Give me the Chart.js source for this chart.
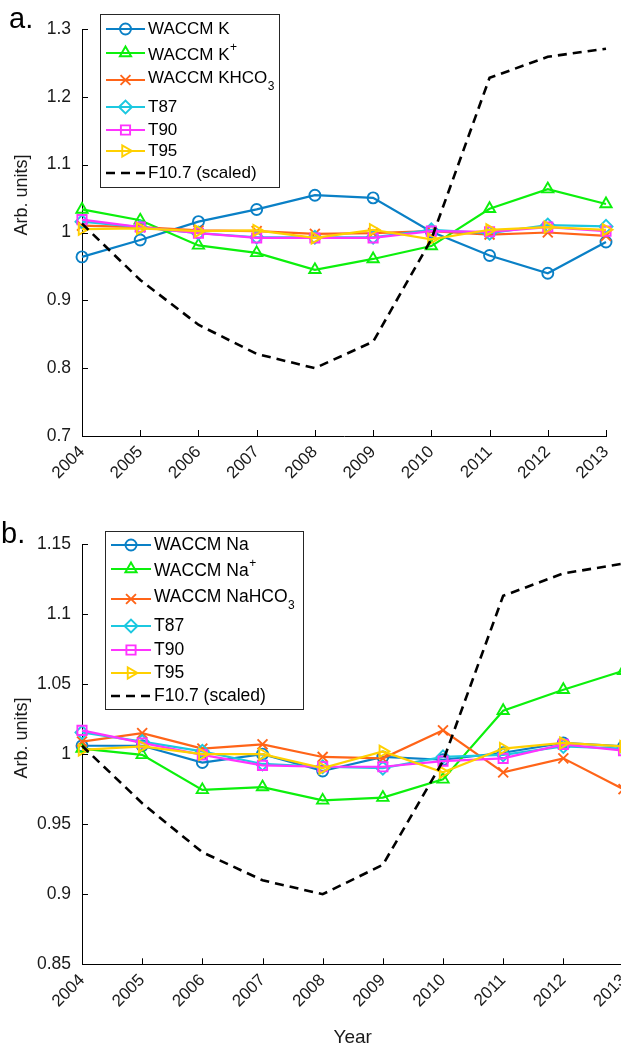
<!DOCTYPE html>
<html>
<head>
<meta charset="utf-8">
<script src="https://cdn.jsdelivr.net/npm/chart.js@4.4.1/dist/chart.umd.min.js"></script>
<style>
html, body { margin: 0; padding: 0; background: #fff; overflow: hidden; width: 621px; height: 1049px; }
#wa { position: absolute; left: 0; top: 0; }
#wb { position: absolute; left: 0; top: 480px; }
</style>
</head>
<body>
<div id="wa"><canvas id="chartA" width="621" height="480"></canvas></div>
<div id="wb"><canvas id="chartB" width="640" height="569"></canvas></div>
<script>
// x categories
var years = ['2004', '2005', '2006', '2007', '2008', '2009', '2010', '2011', '2012', '2013'];

// panel a (potassium)
var kWaccm = [0.964, 0.989, 1.016, 1.034, 1.055, 1.051, 1.001, 0.966, 0.940, 0.986];
var kIon   = [1.034, 1.018, 0.981, 0.970, 0.945, 0.961, 0.980, 1.035, 1.064, 1.042];
var kHco3  = [1.010, 1.008, 1.003, 1.002, 0.998, 0.999, 1.002, 0.997, 1.000, 0.995];
var kT87   = [1.016, 1.008, 0.999, 0.993, 0.993, 0.993, 1.004, 0.999, 1.011, 1.009];
var kT90   = [1.019, 1.008, 0.999, 0.992, 0.992, 0.992, 1.002, 1.001, 1.008, 1.002];
var kT95   = [1.005, 1.006, 1.002, 1.003, 0.992, 1.004, 0.990, 1.004, 1.008, 1.004];
var f107a  = [1.013, 0.930, 0.864, 0.821, 0.800, 0.839, 0.990, 1.228, 1.259, 1.271];
var labelsA = ['WACCM K', 'WACCM K^+', 'WACCM KHCO_3', 'T87', 'T90', 'T95', 'F10.7 (scaled)'];
var yTicksA = [0.7, 0.8, 0.9, 1.0, 1.1, 1.2, 1.3];
var yTickLabelsA = ['0.7', '0.8', '0.9', '1', '1.1', '1.2', '1.3'];

// panel b (sodium)
var naWaccm = [1.006, 1.006, 0.994, 1.000, 0.988, 0.998, 0.996, 1.001, 1.008, 1.0055];
var naIon   = [1.004, 0.9995, 0.9745, 0.9765, 0.967, 0.969, 0.982, 1.031, 1.046, 1.0595];
var naHco3  = [1.009, 1.015, 1.004, 1.007, 0.998, 0.997, 1.017, 0.987, 0.997, 0.975];
var naT87   = [1.0155, 1.009, 1.002, 0.993, 0.991, 0.990, 0.998, 0.9995, 1.0055, 1.004];
var naT90   = [1.017, 1.008, 0.9995, 0.992, 0.991, 0.991, 0.995, 0.997, 1.007, 1.0025];
var naT95   = [1.003, 1.0055, 1.000, 1.000, 0.990, 1.002, 0.987, 1.004, 1.008, 1.0055];
var f107b   = [1.006, 0.965, 0.930, 0.910, 0.900, 0.921, 0.995, 1.113, 1.129, 1.136];
var labelsB = ['WACCM Na', 'WACCM Na^+', 'WACCM NaHCO_3', 'T87', 'T90', 'T95', 'F10.7 (scaled)'];
var yTicksB = [0.85, 0.9, 0.95, 1.0, 1.05, 1.1, 1.15];
var yTickLabelsB = ['0.85', '0.9', '0.95', '1', '1.05', '1.1', '1.15'];

var FONT = "'Liberation Sans', Arial, sans-serif";
var colors = ['#0a80c6', '#0cf00c', '#ff6418', '#1cc8e0', '#ff33ff', '#ffd000', '#000000'];
var styles = ['circle', 'triangle', 'crossRot', 'rectRot', 'rect', 'triangle', false];
var rots = [0, 0, 0, 0, 0, 90, 0];
var sizes = [5.5, 6.5, 7, 6.5, 6.5, 6.5, 0];

function makeSets(labels, series) {
    return series.map(function (d, i) {
        var dashed = (i === 6);
        return {
            label: labels[i].replace('^', '').replace('_', ''),
            data: d,
            borderColor: colors[i],
            backgroundColor: colors[i],
            borderWidth: dashed ? 2.6 : 2.2,
            borderDash: dashed ? [9, 6] : [],
            pointStyle: styles[i],
            pointRotation: rots[i],
            pointRadius: sizes[i],
            pointBorderWidth: 1.9,
            pointBorderColor: colors[i],
            pointBackgroundColor: 'rgba(0,0,0,0)',
            fill: false,
            tension: 0,
            clip: false,
            order: 7 - i
        };
    });
}

// inward ticks, legend box, panel letter and y title
var decor = {
    id: 'decor',
    afterDraw: function (chart, args, o) {
        var ctx = chart.ctx, a = chart.chartArea;
        var xs = chart.scales.x, ys = chart.scales.y;
        ctx.save();
        ctx.strokeStyle = '#000';
        ctx.lineWidth = 1;
        xs.ticks.forEach(function (t, i) {
            var px = Math.round(xs.getPixelForTick(i)) + 0.5;
            ctx.beginPath(); ctx.moveTo(px, a.bottom); ctx.lineTo(px, a.bottom - 6); ctx.stroke();
        });
        ys.ticks.forEach(function (t, i) {
            var py = Math.round(ys.getPixelForTick(i)) + 0.5;
            ctx.beginPath(); ctx.moveTo(a.left, py); ctx.lineTo(a.left + 6, py); ctx.stroke();
        });

        // panel letter
        ctx.fillStyle = '#000';
        ctx.font = '29px ' + FONT;
        ctx.textAlign = 'left';
        ctx.textBaseline = 'alphabetic';
        ctx.fillText(o.letter, o.letterX, o.letterY);

        // y title
        ctx.save();
        ctx.translate(o.titleX, o.titleY);
        ctx.rotate(-Math.PI / 2);
        ctx.font = '18px ' + FONT;
        ctx.textAlign = 'center';
        ctx.textBaseline = 'middle';
        ctx.fillStyle = '#1a1a1a';
        ctx.fillText('Arb. units]', 0, 0);
        ctx.restore();

        // legend
        var b = o.box;
        ctx.fillStyle = '#fff';
        ctx.fillRect(b.x, b.y, b.w, b.h);
        ctx.strokeStyle = '#262626';
        ctx.lineWidth = 1;
        ctx.strokeRect(b.x + 0.5, b.y + 0.5, b.w, b.h);
        chart.data.datasets.forEach(function (ds, i) {
            var ry = b.y + o.rows[i];
            var x0 = b.x + 6, x1 = b.x + 6 + o.lineLen;
            ctx.save();
            ctx.strokeStyle = ds.borderColor;
            ctx.lineWidth = ds.borderWidth;
            ctx.setLineDash(ds.borderDash);
            ctx.beginPath(); ctx.moveTo(x0, ry); ctx.lineTo(x1, ry); ctx.stroke();
            ctx.setLineDash([]);
            if (ds.pointStyle) {
                ctx.fillStyle = 'rgba(0,0,0,0)';
                ctx.lineWidth = ds.pointBorderWidth;
                Chart.helpers.drawPoint(ctx, {
                    pointStyle: ds.pointStyle, radius: ds.pointRadius,
                    rotation: ds.pointRotation, borderWidth: ds.pointBorderWidth
                }, (x0 + x1) / 2, ry);
            }
            ctx.restore();

            var txt = o.labels[i], base = txt, sup = '', sub = '';
            if (txt.indexOf('^') >= 0) { base = txt.split('^')[0]; sup = txt.split('^')[1]; }
            if (txt.indexOf('_') >= 0) { base = txt.split('_')[0]; sub = txt.split('_')[1]; }
            var tx = b.x + o.textOff;
            ctx.fillStyle = '#000';
            ctx.textAlign = 'left';
            ctx.textBaseline = 'middle';
            ctx.font = o.fontSize + 'px ' + FONT;
            var ty = ry + o.textDy[i];
            ctx.fillText(base, tx, ty);
            var w = ctx.measureText(base).width;
            ctx.font = Math.round(o.fontSize * 0.7) + 'px ' + FONT;
            if (sup) ctx.fillText(sup, tx + w + 0.5, ty - 7);
            if (sub) ctx.fillText(sub, tx + w + 0.5, ty + 9);
        });
        ctx.restore();
    }
};

function makeChart(id, labels, series, yTicks, yTickLabels, opt) {
    return new Chart(document.getElementById(id), {
        type: 'line',
        data: { labels: years, datasets: makeSets(labels, series) },
        plugins: [decor],
        options: {
            responsive: false,
            animation: false,
            devicePixelRatio: 1,
            layout: { padding: { left: 0, right: opt.padRight, top: opt.padTop, bottom: 0 } },
            plugins: {
                legend: { display: false },
                tooltip: { enabled: false },
                decor: {
                    letter: opt.letter, letterX: opt.letterX, letterY: opt.letterY,
                    titleX: 22, titleY: opt.titleY,
                    box: opt.box, rows: opt.rows, textDy: opt.textDy, lineLen: opt.lineLen,
                    textOff: opt.textOff, fontSize: opt.fontSize, labels: labels
                }
            },
            scales: {
                x: {
                    offset: false,
                    grid: { display: false, drawTicks: false },
                    border: { display: true, color: '#000', width: 1 },
                    ticks: {
                        autoSkip: false, minRotation: 45, maxRotation: 45, padding: 6,
                        color: '#1a1a1a', font: { family: FONT, size: 17 }
                    },
                    title: {
                        display: !!opt.xTitle, text: opt.xTitle || '', color: '#1a1a1a',
                        font: { family: FONT, size: 19 }, padding: { top: 0, bottom: 0 }
                    },
                    afterFit: function (s) { s.height = opt.xHeight; s.paddingLeft = 0; s.paddingRight = 0; }
                },
                y: {
                    min: yTicks[0],
                    max: yTicks[yTicks.length - 1],
                    grid: { display: false, drawTicks: false },
                    border: { display: true, color: '#000', width: 1 },
                    afterBuildTicks: function (s) { s.ticks = yTicks.map(function (v) { return { value: v }; }); },
                    ticks: {
                        padding: 11, color: '#1a1a1a', font: { family: FONT, size: 17.5 },
                        callback: function (v, i) { return yTickLabels[i]; }
                    },
                    afterFit: function (s) { s.width = 82; s.paddingTop = 0; s.paddingBottom = 0; }
                }
            }
        }
    });
}

makeChart('chartA', labelsA, [kWaccm, kIon, kHco3, kT87, kT90, kT95, f107a], yTicksA, yTickLabelsA, {
    padRight: 15, padTop: 29, xHeight: 44,
    letter: 'a.', letterX: 9, letterY: 28, titleY: 195,
    box: { x: 100, y: 14, w: 179, h: 173 },
    rows: [15, 39, 66, 93, 116, 137, 159],
    textDy: [0, 2, -2, 0, 0, 0, 0],
    lineLen: 39, textOff: 48, fontSize: 17
});

makeChart('chartB', labelsB, [naWaccm, naIon, naHco3, naT87, naT90, naT95, f107b], yTicksB, yTickLabelsB, {
    padRight: 16.5, padTop: 64, xHeight: 84.7, xTitle: 'Year',
    letter: 'b.', letterX: 1, letterY: 63, titleY: 258,
    box: { x: 105, y: 51, w: 198, h: 178 },
    rows: [14, 38, 68, 95, 119, 142, 165],
    textDy: [0, 2, -2, 0, 0, 0, 0],
    lineLen: 40, textOff: 49, fontSize: 17.5
});
</script>
</body>
</html>
